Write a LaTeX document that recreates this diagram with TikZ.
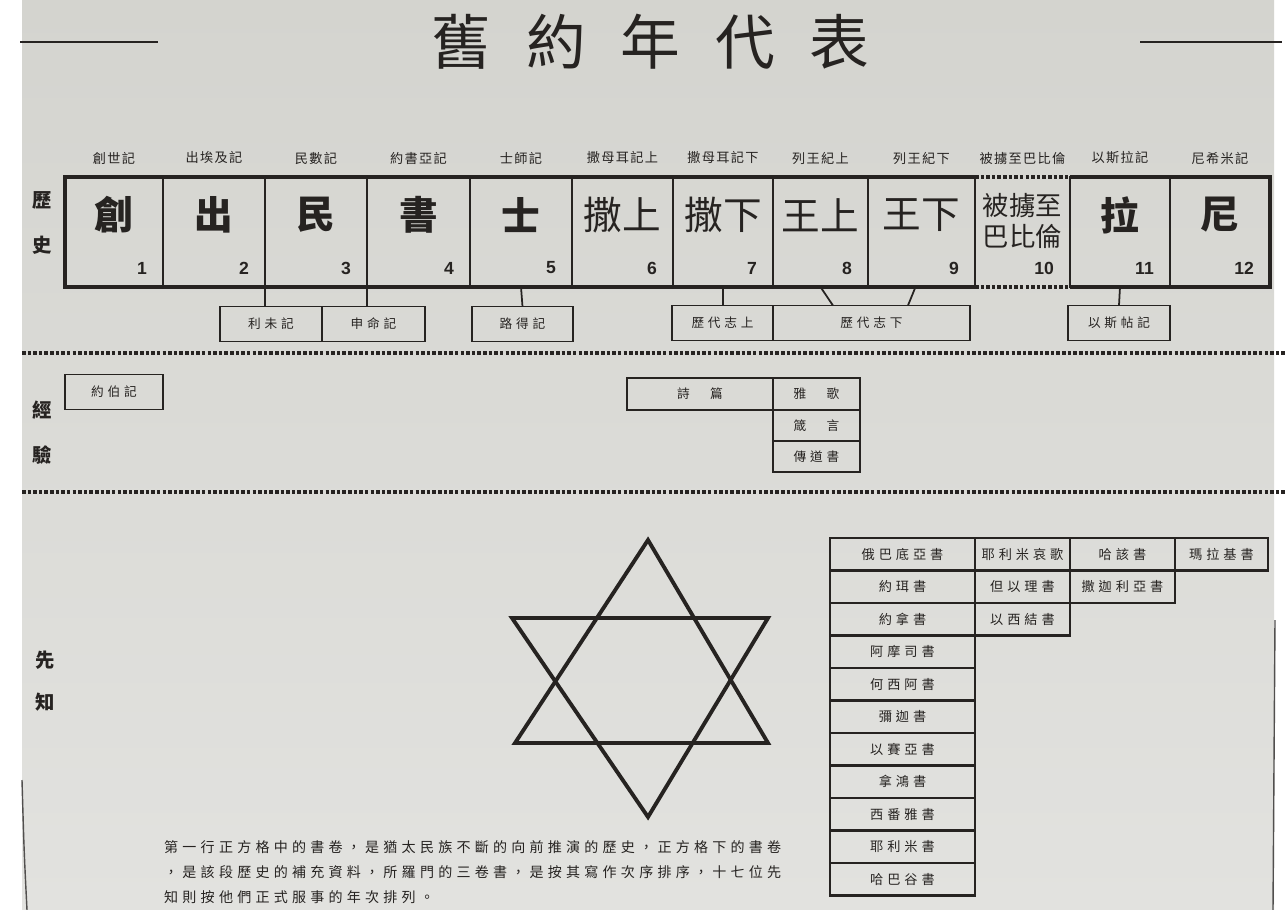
\documentclass[tikz,border=0pt]{standalone}
\usepackage{fontspec}
\setmainfont{Noto Sans CJK TC}
\newfontfamily\labelfont[LetterSpace=10]{Noto Sans CJK TC}
\newfontfamily\spacedfont[LetterSpace=30]{Noto Sans CJK TC}
\newfontfamily\numfont{Liberation Sans}
\usetikzlibrary{positioning}
\definecolor{paper}{RGB}{212,212,207}
\definecolor{paperlow}{RGB}{226,226,223}
\definecolor{ink}{RGB}{38,35,33}

\begin{document}
\begin{tikzpicture}[x=0.02cm, y=-0.02cm,
    cell/.style={draw=ink, line width=1.5pt, inner sep=0pt, outer sep=0pt, minimum height=2.2cm},
    book/.style={text=ink, font=\fontsize{22}{24}\selectfont},
    num/.style={text=ink, anchor=east, font=\numfont\fontsize{10}{12}\selectfont\bfseries},
    toplabel/.style={text=ink, font=\labelfont\fontsize{7.5}{9}\selectfont},
    side/.style={text=ink, font=\fontsize{11}{13}\selectfont\bfseries},
    sub/.style={draw=ink, line width=1.1pt, inner sep=0pt, outer sep=0pt, minimum height=0.7cm, text=ink, font=\spacedfont\fontsize{7.2}{9}\selectfont},
    tab/.style={draw=ink, line width=1.2pt, inner sep=0pt, outer sep=0pt, minimum height=0.65cm, text=ink, font=\spacedfont\fontsize{7.5}{9}\selectfont},
    title/.style={text=ink, font=\fontsize{34}{38}\selectfont},
    note/.style={text=ink, align=left, font=\spacedfont\fontsize{8}{14.2}\selectfont},
    link/.style={draw=ink, line width=1pt},
    dots/.style={draw=ink, line width=2.2pt, dash pattern=on 2pt off 1.2pt},
    frame/.style={draw=ink, line width=2.8pt, line join=miter},
    rule/.style={draw=ink, line width=1.7pt},
    star/.style={draw=ink, line width=2.2pt, line join=miter}
]
    \useasboundingbox (0,0) rectangle (1286,910);
    \fill[white] (0,0) rectangle (1286,910);
    \shade[top color=paper, bottom color=paperlow] (22,0) rectangle (1274,910);
    \draw[ink!80, line width=0.8pt] (22,780) .. controls (24,850) .. (27,910);
    \draw[ink!80, line width=0.8pt] (1275,620) -- (1273,910);

    \foreach \ch [count=\i] in {舊,約,年,代,表}
        \node[title] (t\i) at (367+94.5*\i,42) {\ch};
    \draw[rule] (20,42) -- (158,42);
    \draw[rule] (1140,42) -- (1282,42);

    \node[side] (hist1) at (42,200) {歷};
    \node[side] (hist2) at (42,245) {史};
    \node[side] (exp1) at (42,410) {經};
    \node[side] (exp2) at (42,455) {驗};
    \node[side] (proph1) at (45,660) {先};
    \node[side] (proph2) at (45,702) {知};

    \foreach \id/\xa/\xb/\ch/\no/\lab in {
        b1/65/163/{\bfseries 創}/1/創世記, b2/163/265/{\bfseries 出}/2/出埃及記,
        b3/265/367/{\bfseries 民}/3/民數記, b4/367/470/{\bfseries 書}/4/約書亞記,
        b5/470/572/{\bfseries 士}/5/士師記, b6/572/673/撒上/6/撒母耳記上,
        b7/673/773/撒下/7/撒母耳記下, b8/773/868/王上/8/列王紀上,
        b9/868/975/王下/9/列王紀下, b11/1070/1170/{\bfseries 拉}/11/以斯拉記,
        b12/1170/1270/{\bfseries 尼}/12/尼希米記}
    {
        \pgfmathsetmacro\cx{(\xa+\xb)/2}
        \pgfmathsetmacro\cw{(\xb-\xa)*0.02}
        \node[cell, minimum width=\cw cm] (\id) at (\cx,232) {};
        \node[book] (\id-c) at (\cx,215) {\ch};
        \node[num] (\id-n) at (\xb-10,268) {\no};
        \node[toplabel] (\id-t) at (\cx,158) {\lab};
    }
    \node[cell, draw=none, minimum width=1.9cm] (b10) at (1022.5,232) {};
    \node[book, align=center, font=\fontsize{15}{18}\selectfont] (b10-c) at (1022.5,221) {被擄至\\巴比倫};
    \node[num] (b10-n) at (1060,268) {10};
    \node[toplabel] (b10-t) at (1022.5,158) {被擄至巴比倫};

    \draw[frame] (b9.north east) -- (b1.north west) -- (b1.south west) -- (b9.south east);
    \draw[frame] (b11.north west) -- (b12.north east) -- (b12.south east) -- (b11.south west);
    \draw[dots] (b9.north east) -- (b11.north west);
    \draw[dots] (b9.south east) -- (b11.south west);

    \node[sub, minimum width=2.04cm] (lev) at (271,324) {利未記};
    \node[sub, minimum width=2.06cm, right=0pt of lev] (deut) {申命記};
    \node[sub, minimum width=2.02cm] (ruth) at (522.5,324) {路得記};
    \node[sub, minimum width=2.02cm] (chr1) at (722.5,323) {歷代志上};
    \node[sub, minimum width=3.94cm, right=0pt of chr1] (chr2) {歷代志下};
    \node[sub, minimum width=2.04cm] (esth) at (1119,323) {以斯帖記};

    \draw[link] (b3.south west) -- (b3.south west |- lev.north);
    \draw[link] (b4.south west) -- (b4.south west |- deut.north);
    \draw[link] (b5.south) -- (ruth.north);
    \draw[link] (b7.south) -- (b7.south |- chr1.north);
    \draw[link] (b8.south) -- ([xshift=-0.77cm]chr2.north);
    \draw[link] ([xshift=-0.12cm]b9.south) -- ([xshift=0.73cm]chr2.north);
    \draw[link] (b11.south) -- (esth.north);

    \draw[dots] (22,353) -- (1286,353);
    \draw[dots] (22,492) -- (1286,492);

    \node[sub, minimum width=1.96cm] (job) at (114,392) {約伯記};
    \node[sub, minimum width=2.92cm, minimum height=0.64cm] (ps) at (700,394) {詩　篇};
    \node[sub, minimum width=1.74cm, minimum height=0.64cm, right=0pt of ps] (song) {雅　歌};
    \node[sub, minimum width=1.74cm, minimum height=0.62cm, below=0pt of song] (prov) {箴　言};
    \node[sub, minimum width=1.74cm, minimum height=0.62cm, below=0pt of prov] (eccl) {傳道書};

    \draw[star] (648,540) -- (768,743) -- (515,743) -- cycle;
    \draw[star] (512,618) -- (768,618) -- (648,817) -- cycle;

    \foreach \lab [count=\i] in {俄巴底亞書,約珥書,約拿書,阿摩司書,何西阿書,彌迦書,以賽亞書,拿鴻書,西番雅書,耶利米書,哈巴谷書}
        \node[tab, minimum width=2.9cm] (p\i) at (902.5,554.25+32.5*\i-32.5) {\lab};
    \node[tab, minimum width=1.9cm, right=0pt of p1] (lam) {耶利米哀歌};
    \node[tab, minimum width=2.1cm, right=0pt of lam] (hag) {哈該書};
    \node[tab, minimum width=1.86cm, right=0pt of hag] (mal) {瑪拉基書};
    \node[tab, minimum width=1.9cm, right=0pt of p2] (dan) {但以理書};
    \node[tab, minimum width=2.1cm, right=0pt of dan] (zech) {撒迦利亞書};
    \node[tab, minimum width=1.9cm, right=0pt of p3] (ezek) {以西結書};

    \node[note, anchor=north west] (remark) at (158,834) {第一行正方格中的書卷，是猶太民族不斷的向前推演的歷史，正方格下的書卷\\，是該段歷史的補充資料，所羅門的三卷書，是按其寫作次序排序，十七位先\\知則按他們正式服事的年次排列。};
\end{tikzpicture}
\end{document}
